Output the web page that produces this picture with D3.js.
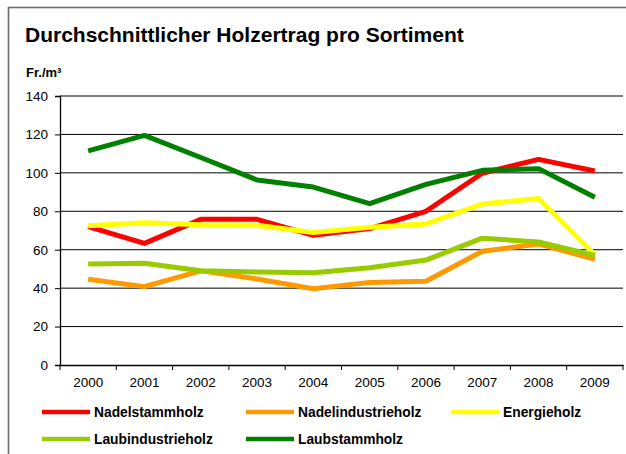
<!DOCTYPE html>
<html>
<head>
<meta charset="utf-8">
<script src="https://cdn.jsdelivr.net/npm/d3@7"></script>
<style>
  body { margin: 0; background: #fff; }
  svg { display: block; font-family: "Liberation Sans", Arial, sans-serif; }
</style>
</head>
<body>
<div id="vis"></div>
<script>
const WIDTH = 626;
const HEIGHT = 454;

// Daten (Fr./m³)
const years = ["2000", "2001", "2002", "2003", "2004", "2005", "2006", "2007", "2008", "2009"];
const nadelstammholz = [72, 63.3, 75.8, 75.8, 67.5, 71, 80, 99.8, 107, 101];
const nadelindustrieholz = [44.6, 40.8, 49, 44.8, 39.7, 43, 43.6, 59.2, 63, 55];
const energieholz = [72.5, 74, 73, 72.7, 69, 71.7, 73.4, 83.8, 86.7, 57.4];
const laubindustrieholz = [52.6, 53, 49, 48.4, 48, 50.6, 54.6, 66, 64, 57];
const laubstammholz = [111.4, 119.5, 108, 96.3, 92.6, 84, 94, 101.3, 102.2, 87.3];
const yTicks = [0, 20, 40, 60, 80, 100, 120, 140];

const series = [
  { name: "Nadelstammholz", values: nadelstammholz, color: "#ff0000" },
  { name: "Nadelindustrieholz", values: nadelindustrieholz, color: "#ff9900" },
  { name: "Energieholz", values: energieholz, color: "#ffff00" },
  { name: "Laubindustrieholz", values: laubindustrieholz, color: "#99cc00" },
  { name: "Laubstammholz", values: laubstammholz, color: "#008000" }
];

const margins = { left: 60, right: 3, top: 96, bottom: 89 };

const SVG = d3.select("#vis").append("svg").attr("width", WIDTH).attr("height", HEIGHT);

// Rahmen
SVG.append("rect")
  .attr("x", 8.5).attr("y", 7.5)
  .attr("width", WIDTH + 20).attr("height", HEIGHT + 20)
  .attr("fill", "none")
  .attr("stroke", "#6b6b6b")
  .attr("stroke-width", 1.6);

// Titel
SVG.append("text")
  .attr("x", 25).attr("y", 42)
  .attr("font-size", 21)
  .attr("font-weight", "bold")
  .text("Durchschnittlicher Holzertrag pro Sortiment");

SVG.append("text")
  .attr("x", 26).attr("y", 77)
  .attr("font-size", 13)
  .attr("font-weight", "bold")
  .text("Fr./m³");

const x = d3.scaleBand()
  .domain(years)
  .range([margins.left, WIDTH - margins.right]);

const y = d3.scaleLinear()
  .domain([0, 140])
  .range([HEIGHT - margins.bottom, margins.top]);

// Gitterlinien
SVG.append("g")
  .selectAll("line")
  .data(yTicks.filter(d => d > 0))
  .join("line")
  .attr("x1", margins.left)
  .attr("x2", WIDTH - margins.right)
  .attr("y1", d => y(d))
  .attr("y2", d => y(d))
  .attr("stroke", "#000")
  .attr("stroke-width", 1);

// Y-Achse
const ejeY = d3.axisLeft(y).tickValues(yTicks).tickSize(5).tickPadding(7);
SVG.append("g")
  .attr("id", "ejeY")
  .attr("transform", `translate(${margins.left},0)`)
  .call(ejeY);

// X-Achse
const ejeX = d3.axisBottom(x).tickSize(0).tickPadding(12);
SVG.append("g")
  .attr("id", "ejeX")
  .attr("transform", `translate(0,${HEIGHT - margins.bottom})`)
  .call(ejeX);

// Teilstriche an den Kategoriegrenzen
const bounds = years.map(d => x(d)).concat([x.range()[1]]);
SVG.append("g")
  .selectAll("line")
  .data(bounds)
  .join("line")
  .attr("x1", d => d).attr("x2", d => d)
  .attr("y1", y(0)).attr("y2", y(0) + 5)
  .attr("stroke", "#000");

SVG.selectAll("#ejeY path, #ejeX path").attr("stroke", "#000").attr("stroke-width", 1.3);
SVG.selectAll("#ejeY line").attr("stroke", "#000");
SVG.selectAll("#ejeY text, #ejeX text")
  .attr("font-size", 13.5)
  .attr("font-family", "Liberation Sans, Arial, sans-serif")
  .attr("fill", "#000");

// Linien
const line = d3.line()
  .x((d, i) => x(years[i]) + x.bandwidth() / 2)
  .y(d => y(d));

SVG.append("g")
  .selectAll("path")
  .data(series)
  .join("path")
  .attr("d", d => line(d.values))
  .attr("fill", "none")
  .attr("stroke", d => d.color)
  .attr("stroke-width", 5)
  .attr("stroke-linejoin", "round");

// Legende
const legendPos = [
  { x: 42, y: 412 }, { x: 246, y: 412 }, { x: 451, y: 412 },
  { x: 42, y: 439 }, { x: 246, y: 439 }
];
const legend = SVG.append("g")
  .selectAll("g")
  .data(series)
  .join("g")
  .attr("transform", (d, i) => `translate(${legendPos[i].x},${legendPos[i].y})`);

legend.append("line")
  .attr("x1", 0).attr("x2", 48)
  .attr("stroke", d => d.color)
  .attr("stroke-width", 4.5);

legend.append("text")
  .attr("x", 52).attr("y", 5)
  .attr("font-size", 13.8)
  .attr("font-weight", "bold")
  .text(d => d.name);
</script>
</body>
</html>
